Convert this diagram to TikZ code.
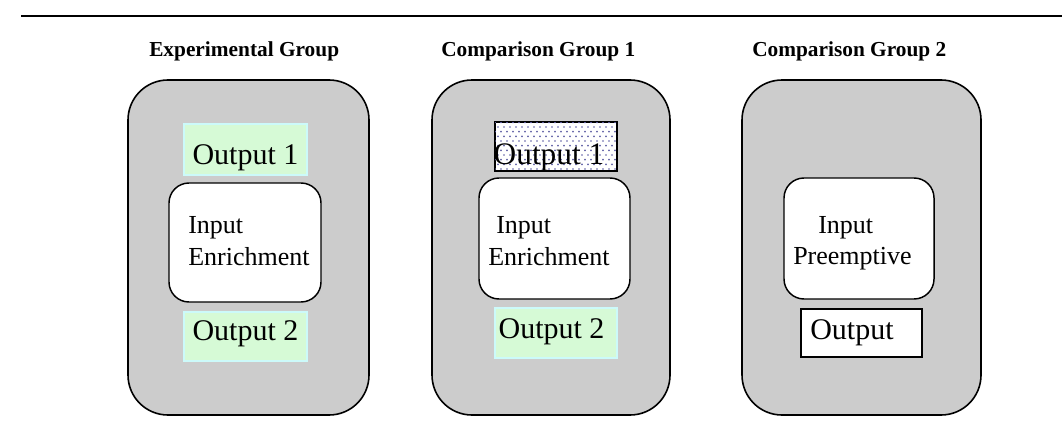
\documentclass[tikz,border=0pt]{standalone}
\usepackage{fontspec}
\setmainfont{Liberation Serif}
\usetikzlibrary{patterns}
\newlength\px
\setlength\px{0.75pt}
\definecolor{groupgray}{RGB}{204,204,204}
\definecolor{outgreen}{RGB}{214,250,214}
\definecolor{outedge}{RGB}{204,250,250}
\definecolor{dotblue}{RGB}{95,95,165}
\pgfdeclarepatternformonly{sparsedots}{\pgfqpoint{-1pt}{-1pt}}{\pgfqpoint{5.5pt}{8pt}}{\pgfqpoint{4.5pt}{7pt}}{%
  \pgfpathcircle{\pgfqpoint{0pt}{0pt}}{0.7pt}%
  \pgfpathcircle{\pgfqpoint{2.25pt}{3.5pt}}{0.7pt}%
  \pgfusepath{fill}}
\begin{document}
\begin{tikzpicture}[
    x=0.75pt, y=-0.75pt,
    group/.style={draw, line width=1.2pt, fill=groupgray, rounded corners=30pt, inner sep=0pt},
    inbox/.style={draw, line width=1.1pt, fill=white, rounded corners=15pt, inner sep=0pt},
    greenout/.style={draw=outedge, line width=0.8pt, fill=outgreen, inner sep=0pt},
    dotout/.style={draw, line width=1.2pt, fill=white, inner sep=0pt,
        postaction={pattern=sparsedots, pattern color=dotblue}},
    plainout/.style={draw, line width=1.1pt, fill=white, inner sep=0pt},
    title/.style={anchor=base west, inner sep=0pt, font=\bfseries\fontsize{16}{19}\selectfont},
    intext/.style={anchor=base west, inner sep=0pt, font=\fontsize{19.5}{24}\selectfont},
    outtext/.style={anchor=base, inner sep=0pt, font=\fontsize{22.5}{27}\selectfont}
  ]
  \useasboundingbox (0,0) rectangle (1062,435);

  \coordinate (ruleL) at (21,16);
  \coordinate (ruleR) at (1062,16);
  \draw[line width=1.5pt] (ruleL) -- (ruleR);

  \node[title] (t1) at (149,57) {Experimental Group};
  \node[title] (t2) at (441,57) {Comparison Group 1};
  \node[title] (t3) at (752,57) {Comparison Group 2};

  \node[group, minimum width=241\px, minimum height=335\px] (g1) at (248.5,247.5) {};
  \node[group, minimum width=238\px, minimum height=335\px] (g2) at (551,247.5) {};
  \node[group, minimum width=239\px, minimum height=335\px] (g3) at (861.5,247.5) {};

  % experimental group
  \node[greenout, minimum width=123\px, minimum height=51\px] (o1a) at (245.5,149.5) {};
  \node[outtext] (o1at) at (245.5,164) {Output 1};
  \node[inbox, minimum width=152\px, minimum height=119\px] (i1) at (245,242.5) {};
  \node[intext] (i1a) at (188,233) {Input};
  \node[intext] (i1b) at (188,265) {Enrichment};
  \node[greenout, minimum width=123\px, minimum height=49\px] (o1b) at (245.5,336.5) {};
  \node[outtext] (o1bt) at (245.5,340) {Output 2};

  % comparison group 1
  \node[dotout, minimum width=122\px, minimum height=49\px] (o2a) at (556,146.5) {};
  \node[outtext, font=\fontsize{23.5}{28}\selectfont] (o2at) at (549,164) {Output 1};
  \node[inbox, minimum width=151\px, minimum height=121\px] (i2) at (554.5,238.5) {};
  \node[intext] (i2a) at (496,233) {Input};
  \node[intext] (i2b) at (488,265) {Enrichment};
  \node[greenout, minimum width=122\px, minimum height=50\px] (o2b) at (556,333) {};
  \node[outtext] (o2bt) at (551.5,338) {Output 2};

  % comparison group 2
  \node[inbox, minimum width=150\px, minimum height=121\px] (i3) at (859,238.5) {};
  \node[intext] (i3a) at (818,233) {Input};
  \node[intext] (i3b) at (793,264) {Preemptive};
  \node[plainout, minimum width=121\px, minimum height=48\px] (o3) at (861.5,333) {};
  \node[outtext, anchor=base west] (o3t) at (810,339) {Output};
\end{tikzpicture}
\end{document}
